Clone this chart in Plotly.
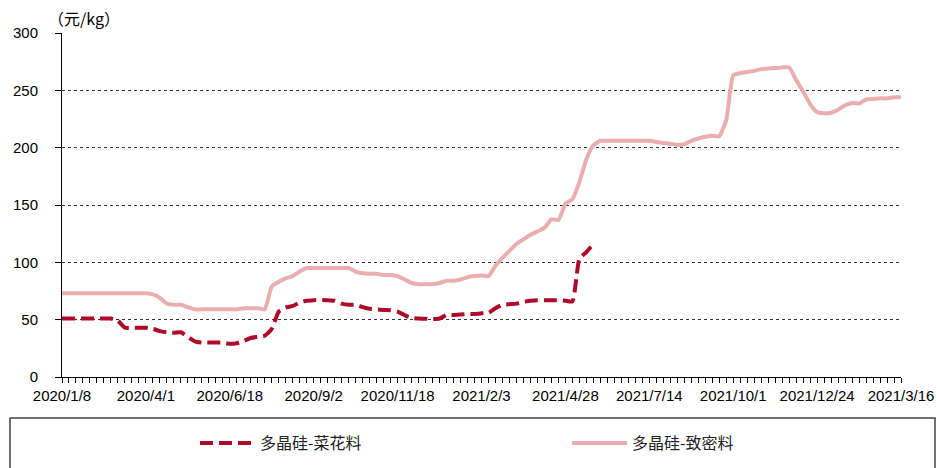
import plotly.graph_objects as go

# ---- data ----
tick_labels = ["2020/1/8", "2020/4/1", "2020/6/18", "2020/9/2", "2020/11/18",
               "2021/2/3", "2021/4/28", "2021/7/14", "2021/10/1", "2021/12/24", "2021/3/16"]

dense = [  # 多晶硅-致密料 (元/kg), weekly
    73, 73, 73, 73, 73, 73, 73, 73, 73, 73, 73, 73, 73, 72, 69, 64, 63, 63, 61, 59,
    59, 59, 59, 59, 59, 59, 60, 60, 60, 59, 79, 83, 86, 88, 92, 95, 95, 95, 95, 95,
    95, 95, 92, 90.5, 90, 90, 89, 89, 88, 85, 82, 81, 81, 81, 82, 84, 84, 85, 87, 88,
    88.5, 88, 97, 104, 110, 116, 120, 124, 127, 130, 137.5, 137, 151, 155, 170, 190, 202, 206, 206, 206,
    206, 206, 206, 206, 206, 205, 204, 203.5, 202.5, 203, 206, 208, 209.5, 210.5, 210, 224, 263, 265, 266, 267,
    268.5, 269, 269.5, 270, 270, 259, 249, 238, 231, 230, 230.5, 233, 237, 239, 238.5, 242, 242.5, 243, 243, 244,
    244,
]

cauliflower = [  # 多晶硅-菜花料 (元/kg), weekly
    51, 51, 51, 51, 51, 51, 51, 51, 49, 43, 43, 43, 43, 42, 40, 39, 38.5, 39, 35, 31,
    30, 30, 30, 30, 29, 29.5, 31.5, 34, 35, 36, 42, 57, 60.5, 62, 65, 66.5, 67, 67.2, 67, 66.5,
    64, 63, 63, 61, 59.5, 59, 58.5, 58.3, 57, 54, 51.5, 51, 50.8, 50.5, 51, 54, 54, 54.5, 55, 55,
    55.5, 56, 60, 63, 63.5, 64, 65.5, 66.5, 67, 67, 67, 67, 66.5, 66, 103, 109, 116,
]

idx_dense = list(range(len(dense)))
idx_cauli = list(range(len(cauliflower)))
n = len(dense)
tickvals = list(range(n))
ticktext = [tick_labels[i // 12] if i % 12 == 0 else "" for i in range(n)]

W, H = 937, 468

fig = go.Figure()
fig.add_trace(go.Scatter(
    x=idx_cauli, y=cauliflower, mode="lines", name="多晶硅-菜花料", legend="legend",
    line=dict(color="#AE0A2A", width=4, dash="13px,6px", shape="spline", smoothing=0.5),
))
fig.add_trace(go.Scatter(
    x=idx_dense, y=dense, mode="lines", name="多晶硅-致密料", legend="legend2",
    line=dict(color="#EBAEAE", width=4, shape="spline", smoothing=0.5),
))

legend_common = dict(
    orientation="h", xref="container", yref="container",
    xanchor="left", yanchor="middle", itemwidth=55,
    font=dict(family="Noto Sans CJK SC", size=16, color="#222"),
    bgcolor="rgba(0,0,0,0)", borderwidth=0,
)

fig.update_layout(
    width=W, height=H,
    margin=dict(l=62, r=36, t=33, b=91, autoexpand=False),
    paper_bgcolor="white", plot_bgcolor="white",
    font=dict(family="Liberation Sans, Arial, sans-serif", size=15, color="black"),
    showlegend=True,
    legend=dict(x=195 / W, y=1 - 443 / H, **legend_common),
    legend2=dict(x=567 / W, y=1 - 443 / H, **legend_common),
    shapes=[dict(
        type="rect", xref="paper", yref="paper",
        x0=(10 - 62) / 839, x1=(935 - 62) / 839,
        y0=(377 - 475) / 344, y1=(377 - 418) / 344,
        line=dict(color="#444", width=1.5), fillcolor="rgba(0,0,0,0)", layer="below",
    )],
    annotations=[dict(
        text="（元/kg）", xref="paper", yref="paper",
        x=(46 - 62) / 839, y=(377 - 18) / 344, xanchor="left", yanchor="middle",
        showarrow=False, font=dict(size=16, family="Noto Sans CJK SC"),
    )],
)

fig.update_xaxes(
    range=[0, n - 1], tickmode="array", tickvals=tickvals, ticktext=ticktext,
    showline=True, linecolor="black", linewidth=1,
    ticks="outside", ticklen=5, tickcolor="black", tickwidth=1,
    showgrid=False, zeroline=False, tickangle=0, automargin=False,
)
fig.update_yaxes(
    range=[0, 300], dtick=50, tick0=0,
    showline=True, linecolor="black", linewidth=1,
    ticks="outside", ticklen=6, tickcolor="black",
    showgrid=True, gridcolor="#333", gridwidth=1, griddash="dot",
    zeroline=False, ticklabelstandoff=14, automargin=False,
)

fig.write_html("out.html")
